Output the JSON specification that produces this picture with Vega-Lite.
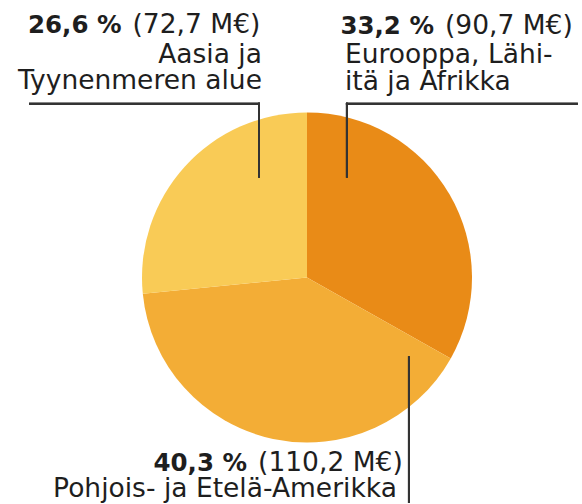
{
  "$schema": "https://vega.github.io/schema/vega-lite/v6.json",
  "width": 582,
  "height": 504,
  "autosize": {"type": "fit", "contains": "padding"},
  "padding": 0,
  "background": "#ffffff",
  "config": {"view": {"stroke": null}, "text": {"font": "DejaVu Sans", "fontSize": 26.5, "color": "#1e1e1e", "baseline": "alphabetic"}},
  "data": {"values": [
    {"n": 1, "alue": "Eurooppa, Lähi-itä ja Afrikka", "osuus": 33.2, "meur": 90.7, "pct": "33,2 %", "arvo": "(90,7 M€)", "nimi": "Eurooppa, Lähi-\nitä ja Afrikka"},
    {"n": 2, "alue": "Pohjois- ja Etelä-Amerikka", "osuus": 40.3, "meur": 110.2, "pct": "40,3 %", "arvo": "(110,2 M€)", "nimi": "Pohjois- ja Etelä-Amerikka"},
    {"n": 3, "alue": "Aasia ja Tyynenmeren alue", "osuus": 26.6, "meur": 72.7, "pct": "26,6 %", "arvo": "(72,7 M€)", "nimi": "Aasia ja\nTyynenmeren alue"}
  ]},
  "layer": [
    {
      "mark": {"type": "arc", "radius": 165},
      "encoding": {
        "theta": {"field": "osuus", "type": "quantitative", "stack": true},
        "order": {"field": "n", "type": "quantitative"},
        "color": {"field": "alue", "type": "nominal", "legend": null,
          "scale": {"domain": ["Eurooppa, Lähi-itä ja Afrikka", "Pohjois- ja Etelä-Amerikka", "Aasia ja Tyynenmeren alue"], "range": ["#E98B17", "#F3AD36", "#F9CB56"]}},
        "x": {"datum": 0, "type": "quantitative", "axis": null, "scale": {"domain": [-1.861, 1.667], "nice": false, "zero": false}},
        "y": {"datum": 0, "type": "quantitative", "axis": null, "scale": {"domain": [-1.370, 1.685], "nice": false, "zero": false}}
      }
    },
    {
      "mark": {"type": "rule", "color": "#333333", "strokeWidth": 2, "strokeCap": "square"},
      "encoding": {
        "x": {"datum": -1.679, "type": "quantitative"},
        "x2": {"datum": -0.291},
        "y": {"datum": 1.055, "type": "quantitative"}
      }
    },
    {
      "mark": {"type": "rule", "color": "#333333", "strokeWidth": 2, "strokeCap": "square"},
      "encoding": {
        "x": {"datum": -0.291, "type": "quantitative"},
        "y": {"datum": 1.055, "type": "quantitative"},
        "y2": {"datum": 0.612}
      }
    },
    {
      "mark": {"type": "rule", "color": "#333333", "strokeWidth": 2, "strokeCap": "square"},
      "encoding": {
        "x": {"datum": 0.242, "type": "quantitative"},
        "x2": {"datum": 1.636},
        "y": {"datum": 1.055, "type": "quantitative"}
      }
    },
    {
      "mark": {"type": "rule", "color": "#333333", "strokeWidth": 2, "strokeCap": "square"},
      "encoding": {
        "x": {"datum": 0.242, "type": "quantitative"},
        "y": {"datum": 1.055, "type": "quantitative"},
        "y2": {"datum": 0.612}
      }
    },
    {
      "mark": {"type": "rule", "color": "#333333", "strokeWidth": 2},
      "encoding": {
        "x": {"datum": 0.618, "type": "quantitative"},
        "y": {"datum": -0.479, "type": "quantitative"},
        "y2": {"datum": -1.370}
      }
    },
    {
      "transform": [{"filter": "datum.n == 3"}],
      "layer": [
        {"mark": {"type": "text", "align": "right", "fontWeight": "bold", "fontSize": 24.5, "dx": -6},
         "encoding": {"text": {"field": "pct"}, "x": {"datum": -1.088, "type": "quantitative"}, "y": {"datum": 1.485, "type": "quantitative"}}},
        {"mark": {"type": "text", "align": "left", "dx": 5},
         "encoding": {"text": {"field": "arvo"}, "x": {"datum": -1.088, "type": "quantitative"}, "y": {"datum": 1.485, "type": "quantitative"}}},
        {"mark": {"type": "text", "align": "right", "lineBreak": "\n", "lineHeight": 26},
         "encoding": {"text": {"field": "nimi"}, "x": {"datum": -0.273, "type": "quantitative"}, "y": {"datum": 1.303, "type": "quantitative"}}}
      ]
    },
    {
      "transform": [{"filter": "datum.n == 1"}],
      "layer": [
        {"mark": {"type": "text", "align": "right", "fontWeight": "bold", "fontSize": 24.5, "dx": -6},
         "encoding": {"text": {"field": "pct"}, "x": {"datum": 0.806, "type": "quantitative"}, "y": {"datum": 1.479, "type": "quantitative"}}},
        {"mark": {"type": "text", "align": "left", "dx": 5},
         "encoding": {"text": {"field": "arvo"}, "x": {"datum": 0.806, "type": "quantitative"}, "y": {"datum": 1.479, "type": "quantitative"}}},
        {"mark": {"type": "text", "align": "left", "lineBreak": "\n", "lineHeight": 27},
         "encoding": {"text": {"field": "nimi"}, "x": {"datum": 0.230, "type": "quantitative"}, "y": {"datum": 1.303, "type": "quantitative"}}}
      ]
    },
    {
      "transform": [{"filter": "datum.n == 2"}],
      "layer": [
        {"mark": {"type": "text", "align": "right", "fontWeight": "bold", "fontSize": 24.5, "dx": -6},
         "encoding": {"text": {"field": "pct"}, "x": {"datum": -0.327, "type": "quantitative"}, "y": {"datum": -1.176, "type": "quantitative"}}},
        {"mark": {"type": "text", "align": "left", "dx": 5},
         "encoding": {"text": {"field": "arvo"}, "x": {"datum": -0.327, "type": "quantitative"}, "y": {"datum": -1.176, "type": "quantitative"}}},
        {"mark": {"type": "text", "align": "right"},
         "encoding": {"text": {"field": "nimi"}, "x": {"datum": 0.545, "type": "quantitative"}, "y": {"datum": -1.333, "type": "quantitative"}}}
      ]
    }
  ]
}
